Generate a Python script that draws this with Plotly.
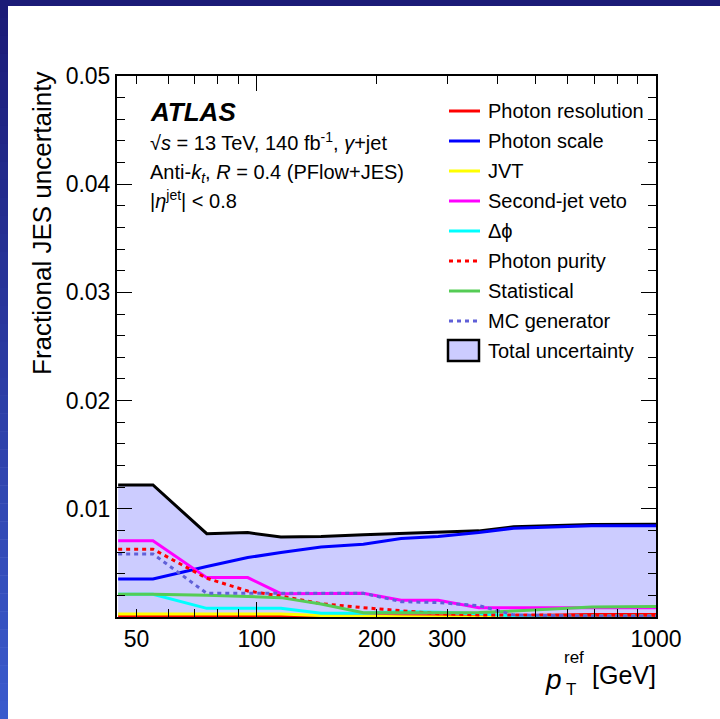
import plotly.graph_objects as go
import math

# ---------------- data ----------------
pt = [45, 55, 75, 95, 115, 145, 185, 230, 285, 360, 440, 690, 1000]

total_unc = [0.0122, 0.0122, 0.0077, 0.0078, 0.0074, 0.00745, 0.0076, 0.0077, 0.0078, 0.00796, 0.00833, 0.00855, 0.00858]
photon_res = [0.00008, 0.00008, 0.00008, 0.00008, 0.00008, 0.00008, 0.00008, 0.00008, 0.00008, 0.0001, 0.00012, 0.00022, 0.00022]
photon_scale = [0.00352, 0.00352, 0.00466, 0.00549, 0.00596, 0.00648, 0.00673, 0.00725, 0.00744, 0.00781, 0.00821, 0.00843, 0.00843]
jvt = [0.00028, 0.00028, 0.00028, 0.00028, 0.00028, 0.00015, 0.00005, 0.00002, 0.00001, 0.00001, 0.00001, 0.00001, 0.00001]
second_jet_veto = [0.00704, 0.00704, 0.00364, 0.00364, 0.00216, 0.00219, 0.00219, 0.00155, 0.00155, 0.00086, 0.00086, 0.00086, 0.00086]
dphi = [0.0021, 0.0021, 0.0008, 0.0008, 0.0008, 0.00034, 0.00034, 0.0005, 0.00045, 0.0003, 0.0001, 0.0001, 0.0001]
photon_purity = [0.00627, 0.00627, 0.00358, 0.0024, 0.00194, 0.00123, 0.00086, 0.00056, 0.00031, 0.00019, 0.00019, 0.00015, 0.00015]
statistical = [0.0021, 0.0021, 0.0020, 0.00192, 0.00179, 0.0012, 0.0004, 0.0004, 0.0004, 0.00042, 0.00055, 0.00093, 0.00097]
mc_generator = [0.00583, 0.00583, 0.00219, 0.00219, 0.00219, 0.00219, 0.00219, 0.00142, 0.00133, 0.00105, 0.0002, 0.00005, 0.00005]

series_names = ["Photon resolution", "Photon scale", "JVT", "Second-jet veto", "\u0394\u03d5",
                "Photon purity", "Statistical", "MC generator"]
series_values = [photon_res, photon_scale, jvt, second_jet_veto, dphi, photon_purity, statistical, mc_generator]
series_colors = ["#ff0000", "#0000ff", "#ffff00", "#ff00ff", "#00ffff", "#ff0000", "#55cc55", "#6060d8"]
series_dash = ["solid", "solid", "solid", "solid", "solid", "4px,4px", "solid", "4px,4px"]

x_tick_vals = [50, 100, 200, 300, 1000]
x_tick_text = ["50", "100", "200", "300", "1000"]
x_minor_vals = [60, 70, 80, 90, 400, 500, 600, 700, 800, 900]
x_major_long = [100, 1000]
y_tick_vals = [0.01, 0.02, 0.03, 0.04, 0.05]
y_tick_text = ["0.01", "0.02", "0.03", "0.04", "0.05"]

FILL = "#ccccff"
FONT = "Liberation Sans, Arial, Helvetica, sans-serif"

# ---------------- geometry helpers (page pixels -> paper) ----------------
W, H = 720, 719
PL, PR, PT, PB = 117, 656, 76, 617


def fx(xp):
    return (xp - PL) / (PR - PL)


def fy(yp):
    return (PB - yp) / (PB - PT)


fig = go.Figure()

fig.add_trace(go.Scatter(x=pt, y=total_unc, mode="lines", fill="tozeroy", fillcolor=FILL,
                         line=dict(color="black", width=3), name="Total uncertainty",
                         showlegend=False, hoverinfo="skip"))

for name, vals, col, dash in zip(series_names, series_values, series_colors, series_dash):
    fig.add_trace(go.Scatter(x=pt, y=vals, mode="lines", name=name,
                             line=dict(color=col, width=3, dash=dash),
                             showlegend=False))

# helper trace for the overlay axis carrying the long ticks
fig.add_trace(go.Scatter(x=[pt[0]], y=[0], xaxis="x2", mode="markers",
                         marker=dict(opacity=0), showlegend=False, hoverinfo="skip"))

xr = [math.log10(44.7), 3.0]

fig.update_layout(
    width=W, height=H,
    margin=dict(l=PL, r=W - PR, t=PT, b=H - PB, pad=0),
    paper_bgcolor="white", plot_bgcolor="white",
    font=dict(family=FONT, color="black"),
    showlegend=False,
    xaxis=dict(type="log", range=xr, showgrid=False, zeroline=False,
               showline=True, linecolor="black", linewidth=2, mirror="ticks",
               ticks="inside", ticklen=8, tickwidth=1.2, tickcolor="black",
               tickvals=x_tick_vals, ticktext=x_tick_text,
               tickfont=dict(size=23, family=FONT),
               minor=dict(tickvals=x_minor_vals, ticks="inside", ticklen=8,
                          tickwidth=1.2, tickcolor="black", showgrid=False)),
    xaxis2=dict(type="log", range=xr, overlaying="x", anchor="y", side="bottom",
                showgrid=False, zeroline=False, showline=True, linecolor="black",
                linewidth=2, mirror="ticks", ticks="inside", ticklen=15,
                tickwidth=1.2, tickcolor="black", tickvals=x_major_long,
                showticklabels=False),
    yaxis=dict(range=[0, 0.05], showgrid=False, zeroline=False,
               showline=True, linecolor="black", linewidth=2, mirror="ticks",
               ticks="inside", ticklen=15, tickwidth=1.2, tickcolor="black",
               tickvals=y_tick_vals, ticktext=y_tick_text,
               tickfont=dict(size=23, family=FONT),
               minor=dict(dtick=0.002, tick0=0, ticks="inside", ticklen=8,
                          tickwidth=1.2, tickcolor="black", showgrid=False)),
)

shapes = []
# page border: dark top band and gradient left band
shapes.append(dict(type="rect", xref="paper", yref="paper", x0=fx(0), x1=fx(W), y0=fy(6), y1=fy(0),
                   fillcolor="#1b1b77", line=dict(width=0), layer="above"))
n = 40
c0 = (27, 27, 119)
c1 = (58, 90, 204)
for i in range(n):
    t = i / (n - 1)
    c = tuple(int(round(c0[k] + (c1[k] - c0[k]) * t)) for k in range(3))
    y0 = i * H / n
    y1 = (i + 1) * H / n + 0.5
    shapes.append(dict(type="rect", xref="paper", yref="paper", x0=fx(0), x1=fx(8),
                       y0=fy(y1), y1=fy(y0), fillcolor="rgb(%d,%d,%d)" % c,
                       line=dict(width=0), layer="above"))

# manual legend
leg_rows = [111, 141, 171, 201, 231, 261, 291, 321]
for yrow, col, dash in zip(leg_rows, series_colors, series_dash):
    shapes.append(dict(type="line", xref="paper", yref="paper", x0=fx(449), x1=fx(480),
                       y0=fy(yrow), y1=fy(yrow), line=dict(color=col, width=3, dash=dash)))
shapes.append(dict(type="rect", xref="paper", yref="paper", x0=fx(448), x1=fx(479),
                   y0=fy(361), y1=fy(340), fillcolor=FILL, line=dict(color="black", width=2.5)))

annotations = []
for yrow, name in zip(leg_rows + [351], series_names + ["Total uncertainty"]):
    annotations.append(dict(text=name, xref="paper", yref="paper", x=fx(486), y=fy(yrow),
                            xanchor="left", yanchor="middle", showarrow=False,
                            font=dict(size=20, family=FONT)))

annotations.append(dict(text="<b><i>ATLAS</i></b>", xref="paper", yref="paper", x=fx(148), y=fy(112),
                        xanchor="left", yanchor="middle", showarrow=False, font=dict(size=26, family=FONT)))
annotations.append(dict(text="\u221a<i>s</i> = 13 TeV, 140 fb<sup>-1</sup>, <i>\u03b3</i>+jet",
                        xref="paper", yref="paper", x=fx(148), y=fy(141), xanchor="left", yanchor="middle",
                        showarrow=False, font=dict(size=20, family=FONT)))
annotations.append(dict(text="Anti-<i>k</i><sub><i>t</i></sub>, <i>R</i> = 0.4 (PFlow+JES)",
                        xref="paper", yref="paper", x=fx(148), y=fy(173), xanchor="left", yanchor="middle",
                        showarrow=False, font=dict(size=20, family=FONT)))
annotations.append(dict(text="|<i>\u03b7</i><sup>jet</sup>| &lt; 0.8",
                        xref="paper", yref="paper", x=fx(148), y=fy(199), xanchor="left", yanchor="middle",
                        showarrow=False, font=dict(size=20, family=FONT)))

# axis titles
annotations.append(dict(text="Fractional JES uncertainty", xref="paper", yref="paper",
                        x=fx(42), y=fy(224), xanchor="center", yanchor="middle", textangle=-90,
                        showarrow=False, font=dict(size=26, family=FONT)))
annotations.append(dict(text="<i>p</i>", xref="paper", yref="paper", x=fx(553), y=fy(679),
                        xanchor="center", yanchor="middle", showarrow=False, font=dict(size=28, family=FONT)))
annotations.append(dict(text="ref", xref="paper", yref="paper", x=fx(562), y=fy(657),
                        xanchor="left", yanchor="middle", showarrow=False, font=dict(size=17, family=FONT)))
annotations.append(dict(text="T", xref="paper", yref="paper", x=fx(564), y=fy(689),
                        xanchor="left", yanchor="middle", showarrow=False, font=dict(size=17, family=FONT)))
annotations.append(dict(text="[GeV]", xref="paper", yref="paper", x=fx(658), y=fy(675),
                        xanchor="right", yanchor="middle", showarrow=False, font=dict(size=25, family=FONT)))

fig.update_layout(shapes=shapes, annotations=annotations)

fig.write_html("out.html")
